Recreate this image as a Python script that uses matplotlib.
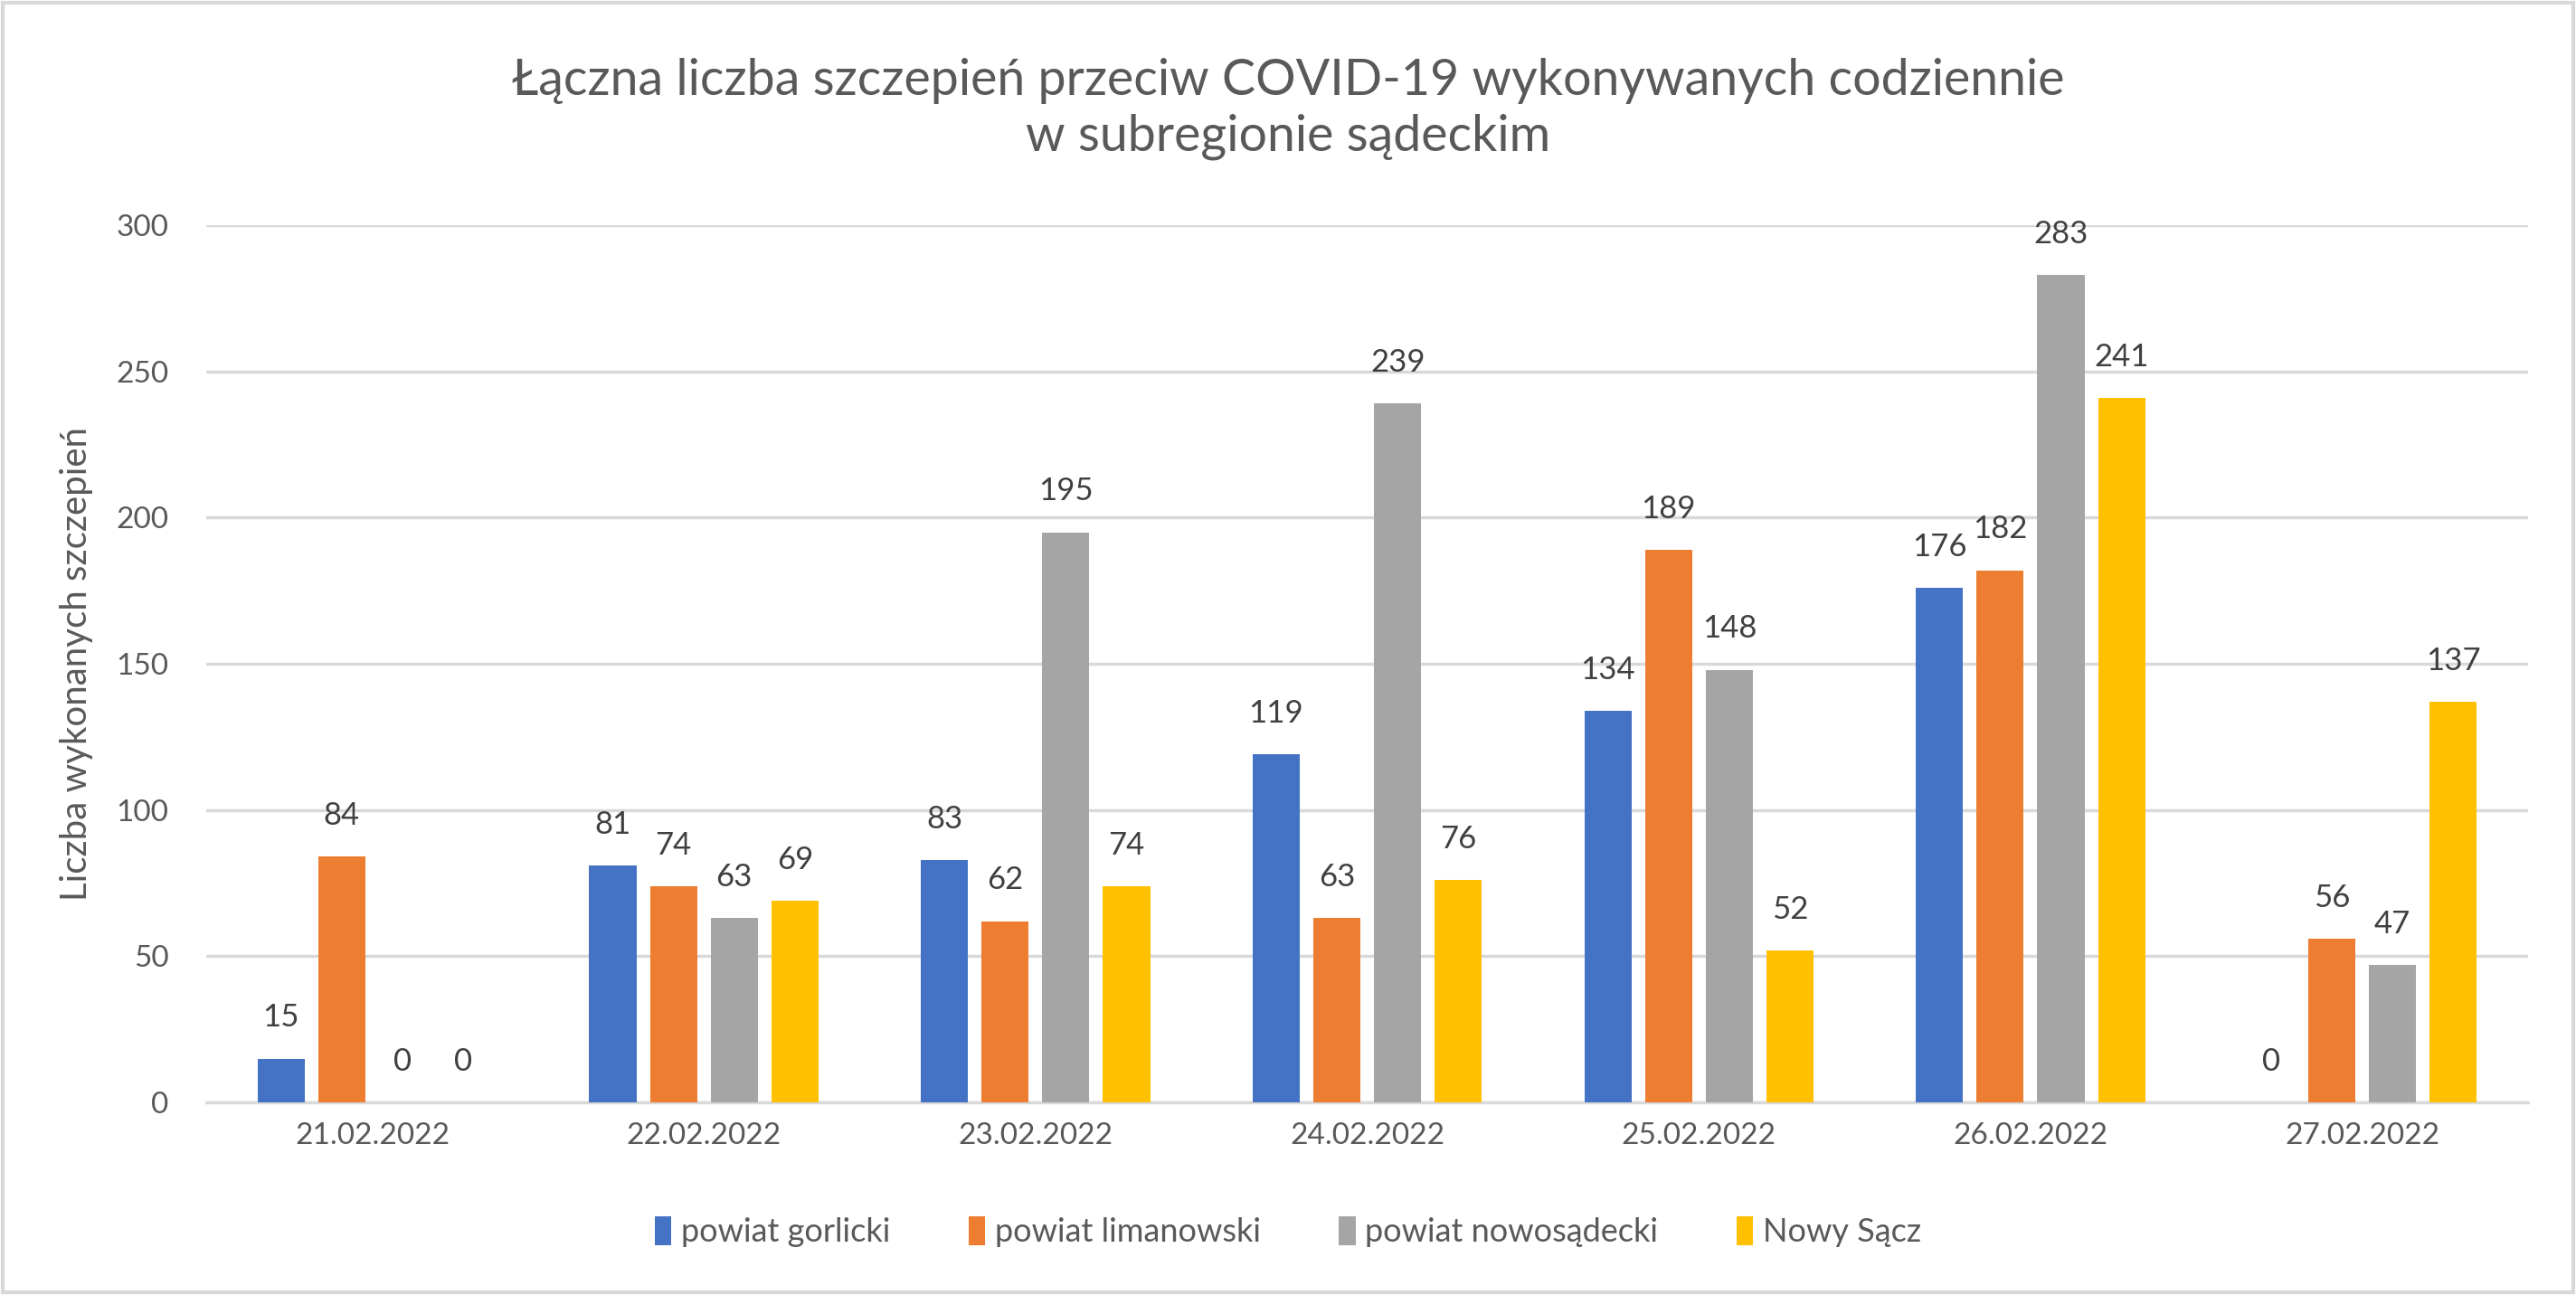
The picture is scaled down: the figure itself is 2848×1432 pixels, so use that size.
import matplotlib.pyplot as plt
import numpy as np
from matplotlib.patches import Rectangle

# Data
dates = ['21.02.2022', '22.02.2022', '23.02.2022', '24.02.2022',
         '25.02.2022', '26.02.2022', '27.02.2022']
gorlicki = [15, 81, 83, 119, 134, 176, 0]
limanowski = [84, 74, 62, 63, 189, 182, 56]
nowosadecki = [0, 63, 195, 239, 148, 283, 47]
nowy_sacz = [0, 69, 74, 76, 52, 241, 137]
series_names = ['powiat gorlicki', 'powiat limanowski', 'powiat nowosądecki', 'Nowy Sącz']
colors = ['#4472C4', '#ED7D31', '#A5A5A5', '#FFC000']

plt.rcParams['font.family'] = ['Lato', 'DejaVu Sans']
text_col = '#595959'

fig = plt.figure(figsize=(28.48, 14.32), dpi=100)
ax = fig.add_axes([0.0801, 0.1487, 0.9013, 0.6774])

x = np.arange(len(dates))
step = 0.183
width = 0.142
all_series = [gorlicki, limanowski, nowosadecki, nowy_sacz]
for i, (vals, name, c) in enumerate(zip(all_series, series_names, colors)):
    pos = x + (i - 1.5) * step
    bars = ax.bar(pos, vals, width, color=c, label=name, zorder=3)
    ax.bar_label(bars, labels=[str(v) for v in vals], padding=21,
                 fontsize=25, color='#404040')

ax.set_xlim(-0.5, len(dates) - 0.5)
ax.set_ylim(0, 300)
ax.set_yticks(range(0, 301, 50))
ax.set_xticks(x)
ax.set_xticklabels(dates)
ax.tick_params(axis='both', length=0, labelsize=24, labelcolor=text_col)
ax.tick_params(axis='x', pad=16)
ax.tick_params(axis='y', pad=30)
ax.grid(axis='y', color='#D9D9D9', linewidth=2.5, zorder=0)
for s in ['top', 'right', 'left']:
    ax.spines[s].set_visible(False)
ax.spines['bottom'].set_color('#D9D9D9')
ax.spines['bottom'].set_linewidth(2.5)

ax.set_ylabel('Liczba wykonanych szczepień', fontsize=29, color=text_col, labelpad=18)

fig.text(0.5, 0.916, 'Łączna liczba szczepień przeciw COVID-19 wykonywanych codziennie\nw subregionie sądeckim',
         ha='center', va='center', fontsize=40, color=text_col, linespacing=1.25)

fig.legend(loc='center', bbox_to_anchor=(0.5, 0.049), ncol=4, frameon=False,
           fontsize=26, labelcolor=text_col, handlelength=0.5, handleheight=1.0,
           handletextpad=0.3, columnspacing=2.4)

fig.patches.append(Rectangle((0.001, 0.002), 0.998, 0.996, transform=fig.transFigure,
                             fill=False, edgecolor='#D9D9D9', linewidth=3))

plt.savefig('out.png', dpi=100)
